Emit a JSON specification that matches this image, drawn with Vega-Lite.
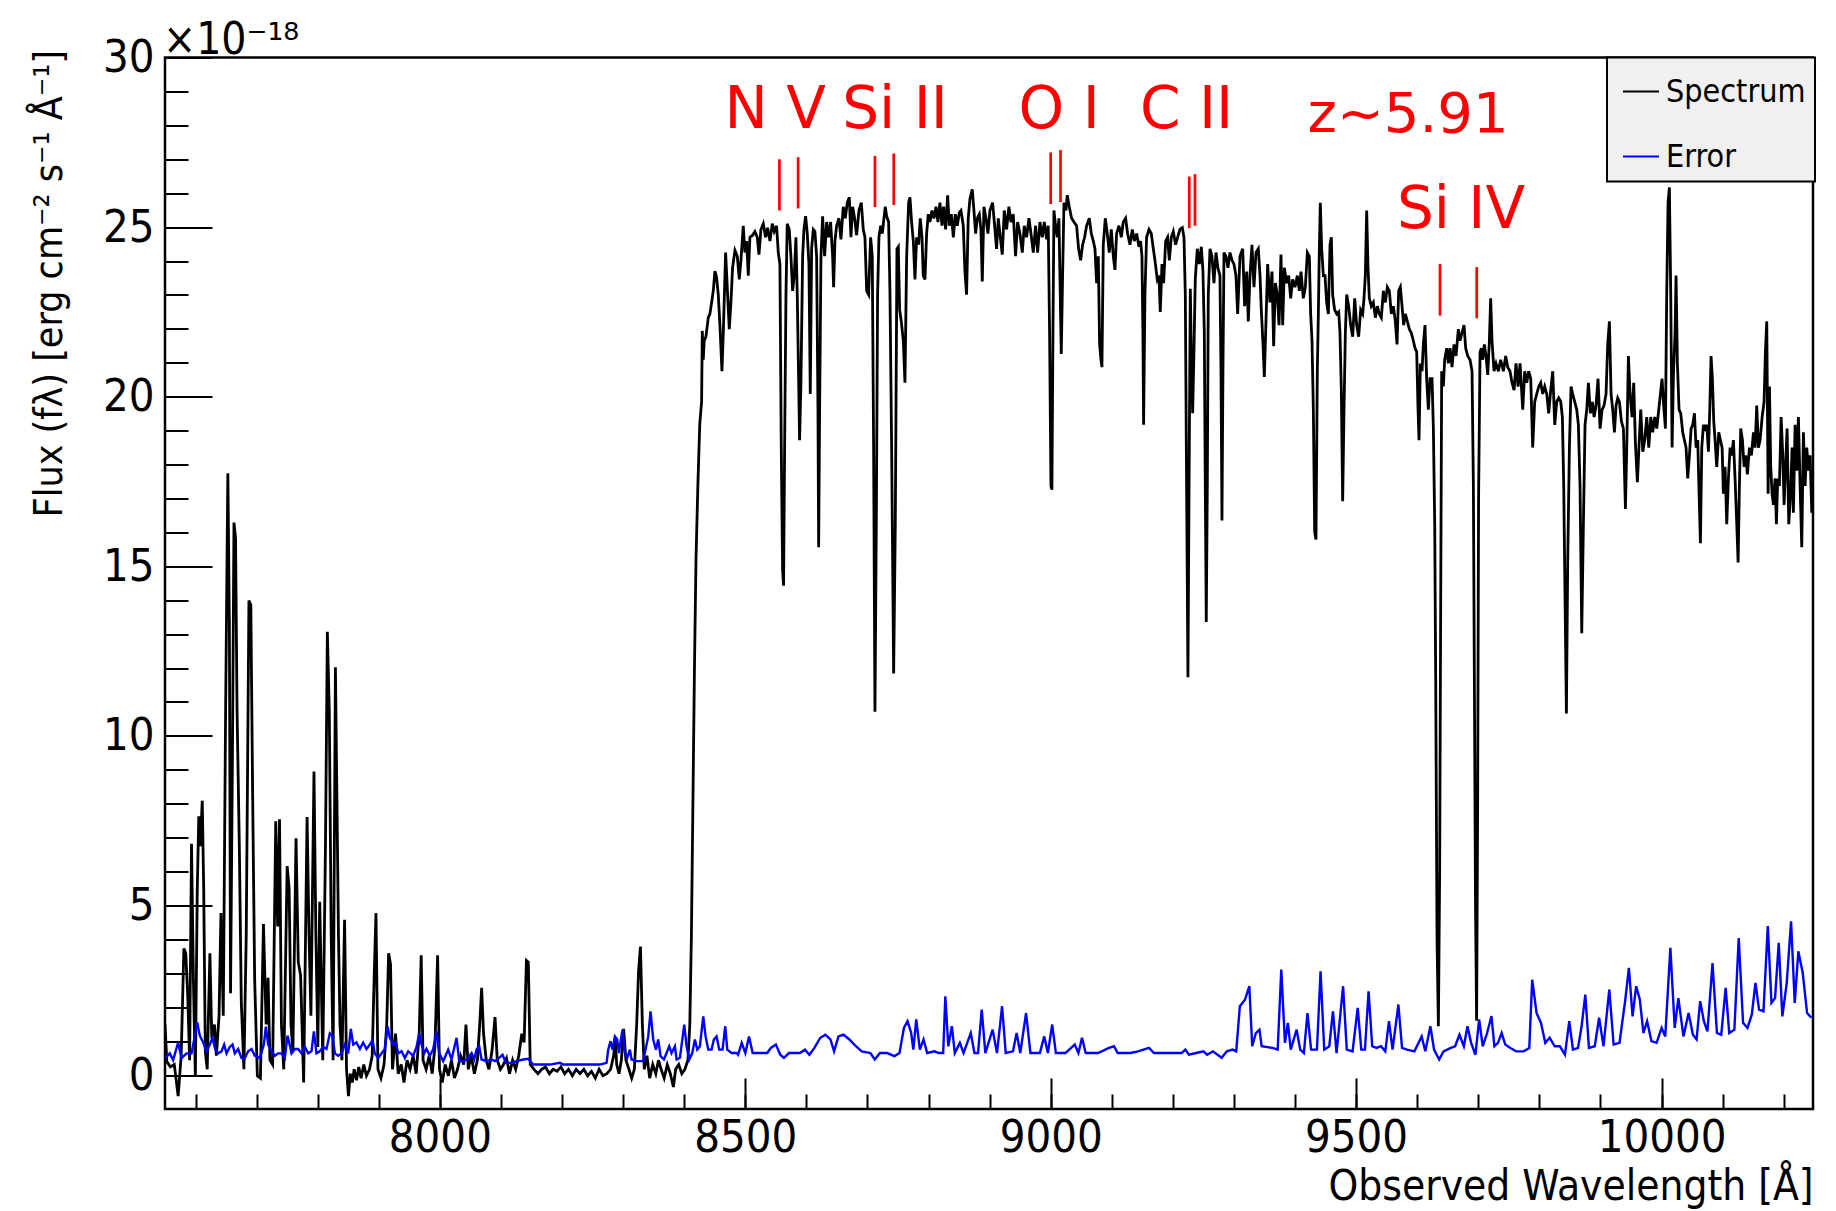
{
  "$schema": "https://vega.github.io/schema/vega-lite/v6.json",
  "width": 1648,
  "height": 1051.5,
  "autosize": {"type": "none"},
  "padding": {"left": 165, "top": 57.5, "right": 23, "bottom": 102},
  "background": "white",
  "config": {
    "font": "DejaVu Sans Condensed, DejaVu Sans",
    "view": {"stroke": "black", "strokeWidth": 2.5},
    "axis": {"grid": false, "domain": false, "labelColor": "black", "titleColor": "black", "tickColor": "black", "labelFont": "DejaVu Sans Condensed, DejaVu Sans", "titleFont": "DejaVu Sans Condensed, DejaVu Sans", "titleFontWeight": "normal"}
  },
  "datasets": {
    "spec": [
      {"wl":7550,"flux":1.5},{"wl":7553,"flux":0.4},{"wl":7558.9,"flux":0.24},{"wl":7565.2,"flux":0.31},{"wl":7571.5,"flux":-0.62},{"wl":7576.5,"flux":0.57},{"wl":7580.9,"flux":3.73},{"wl":7584.0,"flux":3.59},{"wl":7587.1,"flux":2.41},{"wl":7590.3,"flux":0.44},{"wl":7593.4,"flux":6.82},{"wl":7596.5,"flux":2.80},{"wl":7599.7,"flux":-0.02},{"wl":7602.8,"flux":5.44},{"wl":7605.3,"flux":7.63},{"wl":7607.8,"flux":6.75},{"wl":7611.0,"flux":8.09},{"wl":7613.4,"flux":5.44},{"wl":7616.0,"flux":0.70},{"wl":7619.1,"flux":0.17},{"wl":7623.5,"flux":3.59},{"wl":7626.6,"flux":1.09},{"wl":7631.0,"flux":1.49},{"wl":7634.1,"flux":0.57},{"wl":7638.5,"flux":1.75},{"wl":7641.6,"flux":4.78},{"wl":7645.4,"flux":1.75},{"wl":7649.2,"flux":10.70},{"wl":7652.9,"flux":17.74},{"wl":7655.4,"flux":13.33},{"wl":7657.3,"flux":2.41},{"wl":7660.4,"flux":9.38},{"wl":7662.9,"flux":16.29},{"wl":7665.5,"flux":15.83},{"wl":7668.0,"flux":10.70},{"wl":7671.7,"flux":6.75},{"wl":7674.9,"flux":2.15},{"wl":7679.2,"flux":0.17},{"wl":7683.0,"flux":4.12},{"wl":7687.4,"flux":13.99},{"wl":7690.5,"flux":13.86},{"wl":7693.6,"flux":8.07},{"wl":7696.8,"flux":2.80},{"wl":7701.2,"flux":-0.02},{"wl":7706.2,"flux":-0.09},{"wl":7711.2,"flux":4.45},{"wl":7715.6,"flux":1.49},{"wl":7718.7,"flux":2.87},{"wl":7721.8,"flux":0.44},{"wl":7726.2,"flux":0.31},{"wl":7731.3,"flux":7.48},{"wl":7734.4,"flux":4.38},{"wl":7737.5,"flux":7.54},{"wl":7740.6,"flux":1.49},{"wl":7744.4,"flux":0.17},{"wl":7750.0,"flux":6.16},{"wl":7753.2,"flux":5.50},{"wl":7756.3,"flux":1.49},{"wl":7759.4,"flux":0.70},{"wl":7764.5,"flux":6.98},{"wl":7768.2,"flux":3.33},{"wl":7772.0,"flux":2.94},{"wl":7777.0,"flux":-0.22},{"wl":7782.6,"flux":7.61},{"wl":7785.8,"flux":4.12},{"wl":7788.9,"flux":1.75},{"wl":7793.9,"flux":8.95},{"wl":7797.0,"flux":4.12},{"wl":7800.2,"flux":0.83},{"wl":7803.3,"flux":5.11},{"wl":7808.3,"flux":0.44},{"wl":7812.7,"flux":6.75},{"wl":7815.8,"flux":13.07},{"wl":7819.0,"flux":10.70},{"wl":7822.1,"flux":4.12},{"wl":7825.2,"flux":0.44},{"wl":7829.0,"flux":12.02},{"wl":7831.5,"flux":8.07},{"wl":7834.0,"flux":4.12},{"wl":7836.5,"flux":1.49},{"wl":7839.7,"flux":0.44},{"wl":7844.0,"flux":4.58},{"wl":7847.2,"flux":0.17},{"wl":7850.3,"flux":-0.62},{"wl":7853.4,"flux":0.04},{"wl":7856.6,"flux":-0.22},{"wl":7859.7,"flux":0.17},{"wl":7863.5,"flux":-0.15},{"wl":7867.2,"flux":0.24},{"wl":7871.0,"flux":-0.09},{"wl":7875.4,"flux":0.31},{"wl":7879.8,"flux":-0.02},{"wl":7884.8,"flux":0.17},{"wl":7889.2,"flux":0.57},{"wl":7892.3,"flux":2.80},{"wl":7895.4,"flux":4.78},{"wl":7898.6,"flux":0.17},{"wl":7903.6,"flux":-0.09},{"wl":7908.6,"flux":0.31},{"wl":7913.0,"flux":1.49},{"wl":7916.1,"flux":3.59},{"wl":7919.2,"flux":3.27},{"wl":7922.4,"flux":0.17},{"wl":7927.4,"flux":1.22},{"wl":7931.8,"flux":0.04},{"wl":7936.8,"flux":0.31},{"wl":7941.2,"flux":-0.22},{"wl":7946.2,"flux":0.44},{"wl":7951.2,"flux":0.17},{"wl":7956.2,"flux":0.57},{"wl":7961.2,"flux":0.04},{"wl":7966.2,"flux":1.22},{"wl":7969.4,"flux":3.53},{"wl":7972.5,"flux":0.44},{"wl":7977.5,"flux":0.17},{"wl":7982.5,"flux":0.57},{"wl":7987.5,"flux":0.04},{"wl":7991.9,"flux":0.83},{"wl":7996.3,"flux":3.53},{"wl":7999.4,"flux":0.17},{"wl":8003.8,"flux":-0.22},{"wl":8008.8,"flux":0.31},{"wl":8013.9,"flux":-0.02},{"wl":8018.9,"flux":0.44},{"wl":8023.9,"flux":-0.09},{"wl":8028.9,"flux":0.17},{"wl":8033.9,"flux":0.57},{"wl":8039.0,"flux":0.31},{"wl":8042.7,"flux":1.49},{"wl":8046.5,"flux":0.17},{"wl":8051.4,"flux":0.57},{"wl":8056.5,"flux":0.04},{"wl":8061.5,"flux":0.44},{"wl":8065.2,"flux":1.49},{"wl":8068.4,"flux":2.57},{"wl":8071.5,"flux":1.22},{"wl":8075.9,"flux":0.44},{"wl":8080.3,"flux":0.17},{"wl":8085.3,"flux":0.70},{"wl":8090.3,"flux":1.71},{"wl":8094.0,"flux":0.44},{"wl":8099.1,"flux":0.17},{"wl":8104.1,"flux":0.31},{"wl":8109.1,"flux":0.50},{"wl":8114.1,"flux":0.04},{"wl":8119.1,"flux":0.44},{"wl":8124.1,"flux":0.17},{"wl":8129.1,"flux":0.57},{"wl":8134.1,"flux":1.22},{"wl":8137.9,"flux":0.96},{"wl":8141.7,"flux":3.38},{"wl":8144.8,"flux":3.33},{"wl":8147.9,"flux":0.31},{"wl":8154.2,"flux":0.17},{"wl":8160.5,"flux":0.04},{"wl":8166.7,"flux":0.17},{"wl":8173.0,"flux":0.24},{"wl":8179.3,"flux":0.04},{"wl":8185.5,"flux":0.17},{"wl":8191.8,"flux":0.11},{"wl":8198.1,"flux":0.24},{"wl":8204.3,"flux":0.04},{"wl":8210.6,"flux":0.17},{"wl":8216.9,"flux":-0.02},{"wl":8223.1,"flux":0.17},{"wl":8229.4,"flux":0.04},{"wl":8235.7,"flux":0.17},{"wl":8241.9,"flux":-0.02},{"wl":8248.2,"flux":0.11},{"wl":8254.5,"flux":-0.09},{"wl":8260.7,"flux":0.17},{"wl":8267.0,"flux":-0.02},{"wl":8273.3,"flux":0.04},{"wl":8279.5,"flux":0.17},{"wl":8284.5,"flux":0.57},{"wl":8287.0,"flux":1.09},{"wl":8289.5,"flux":0.31},{"wl":8293.3,"flux":0.04},{"wl":8297.1,"flux":0.44},{"wl":8300.8,"flux":1.36},{"wl":8304.6,"flux":0.44},{"wl":8309.6,"flux":0.17},{"wl":8314.0,"flux":-0.09},{"wl":8318.4,"flux":0.17},{"wl":8322.2,"flux":1.49},{"wl":8325.3,"flux":3.07},{"wl":8328.4,"flux":3.79},{"wl":8331.5,"flux":1.49},{"wl":8334.7,"flux":0.17},{"wl":8339.0,"flux":0.57},{"wl":8343.5,"flux":-0.09},{"wl":8348.5,"flux":0.31},{"wl":8353.5,"flux":0.04},{"wl":8357.9,"flux":0.44},{"wl":8362.2,"flux":0.17},{"wl":8367.2,"flux":-0.09},{"wl":8372.3,"flux":0.31},{"wl":8377.3,"flux":0.04},{"wl":8382.3,"flux":-0.35},{"wl":8386.0,"flux":0.17},{"wl":8391.0,"flux":0.31},{"wl":8396.1,"flux":0.04},{"wl":8401.1,"flux":0.17},{"wl":8406.1,"flux":0.44},{"wl":8409.2,"flux":1.49},{"wl":8411.8,"flux":4.12},{"wl":8414.3,"flux":8.07},{"wl":8416.8,"flux":12.0},{"wl":8419.3,"flux":15.2},{"wl":8422.4,"flux":17.4},{"wl":8425.5,"flux":19.2},{"wl":8428.5,"flux":19.85},
      {"wl":8429.6,"flux":21.94},{"wl":8431.2,"flux":21.09},{"wl":8432.8,"flux":21.65},{"wl":8435.6,"flux":21.77},{"wl":8439.4,"flux":22.33},{"wl":8442.1,"flux":22.44},{"wl":8444.9,"flux":22.78},{"wl":8447.6,"flux":23.12},{"wl":8450.3,"flux":23.70},{"wl":8453.0,"flux":23.52},{"wl":8455.8,"flux":23.01},{"wl":8458.5,"flux":22.11},{"wl":8461.8,"flux":20.75},{"wl":8464.0,"flux":21.88},{"wl":8467.8,"flux":24.25},{"wl":8471.1,"flux":23.01},{"wl":8473.8,"flux":21.99},{"wl":8476.5,"flux":22.78},{"wl":8479.2,"flux":23.80},{"wl":8483.1,"flux":24.31},{"wl":8486.9,"flux":24.14},{"wl":8490.2,"flux":23.46},{"wl":8492.9,"flux":24.02},{"wl":8496.7,"flux":25.04},{"wl":8499.4,"flux":24.25},{"wl":8502.2,"flux":24.59},{"wl":8504.9,"flux":23.57},{"wl":8507.6,"flux":24.70},{"wl":8512.0,"flux":24.76},{"wl":8515.8,"flux":24.87},{"wl":8519.6,"flux":24.70},{"wl":8522.4,"flux":24.19},{"wl":8525.6,"flux":24.93},{"wl":8529.5,"flux":25.10},{"wl":8533.3,"flux":24.70},{"wl":8536.5,"flux":24.98},{"wl":8540.4,"flux":24.59},{"wl":8544.2,"flux":25.10},{"wl":8547.5,"flux":24.87},{"wl":8551.3,"flux":25.04},{"wl":8554.0,"flux":24.25},{"wl":8556.7,"flux":23.91},{"wl":8558.9,"flux":18.50},{"wl":8561.1,"flux":14.89},{"wl":8562.7,"flux":14.43},{"wl":8564.4,"flux":18.50},{"wl":8566.6,"flux":23.01},{"wl":8568.7,"flux":25.10},{"wl":8572.0,"flux":24.93},{"wl":8574.7,"flux":24.14},{"wl":8577.5,"flux":23.12},{"wl":8580.2,"flux":23.57},{"wl":8582.9,"flux":24.70},{"wl":8585.1,"flux":23.01},{"wl":8587.3,"flux":20.53},{"wl":8588.9,"flux":18.72},{"wl":8591.1,"flux":20.41},{"wl":8593.9,"flux":24.14},{"wl":8596.0,"flux":24.93},{"wl":8598.8,"flux":25.32},{"wl":8601.5,"flux":24.81},{"wl":8604.2,"flux":23.91},{"wl":8606.4,"flux":20.08},{"wl":8608.6,"flux":24.36},{"wl":8611.3,"flux":24.93},{"wl":8614.0,"flux":24.87},{"wl":8616.8,"flux":24.14},{"wl":8619.0,"flux":19.62},{"wl":8620.1,"flux":15.56},{"wl":8621.7,"flux":19.62},{"wl":8623.9,"flux":24.14},{"wl":8626.6,"flux":25.32},{"wl":8629.9,"flux":24.14},{"wl":8633.2,"flux":25.15},{"wl":8636.4,"flux":24.70},{"wl":8639.7,"flux":25.15},{"wl":8643.0,"flux":24.14},{"wl":8644.6,"flux":23.23},{"wl":8646.8,"flux":24.59},{"wl":8649.5,"flux":25.04},{"wl":8653.3,"flux":25.26},{"wl":8656.6,"flux":24.64},{"wl":8660.4,"flux":25.60},{"wl":8663.7,"flux":25.26},{"wl":8667.0,"flux":25.72},{"wl":8670.3,"flux":25.88},{"wl":8673.0,"flux":24.70},{"wl":8675.7,"flux":25.60},{"wl":8679.0,"flux":25.26},{"wl":8682.3,"flux":24.76},{"wl":8686.1,"flux":25.49},{"wl":8689.9,"flux":25.72},{"wl":8693.2,"flux":24.93},{"wl":8695.9,"flux":24.70},{"wl":8698.7,"flux":23.12},{"wl":8701.9,"flux":23.01},{"wl":8705.2,"flux":24.70},{"wl":8707.9,"flux":24.14},{"wl":8710.1,"flux":18.50},{"wl":8712.3,"flux":10.71},{"wl":8714.5,"flux":16.24},{"wl":8716.6,"flux":23.01},{"wl":8718.8,"flux":24.70},{"wl":8721.6,"flux":25.04},{"wl":8724.3,"flux":24.81},{"wl":8727.0,"flux":25.26},{"wl":8729.2,"flux":25.60},{"wl":8731.4,"flux":25.32},{"wl":8734.7,"flux":25.15},{"wl":8736.9,"flux":23.01},{"wl":8739.6,"flux":18.50},{"wl":8742.9,"flux":11.84},{"wl":8745.6,"flux":16.24},{"wl":8748.3,"flux":24.36},{"wl":8750.5,"flux":24.42},{"wl":8752.7,"flux":22.56},{"wl":8755.4,"flux":22.22},{"wl":8758.7,"flux":21.65},{"wl":8761.4,"flux":20.41},{"wl":8764.2,"flux":24.14},{"wl":8767.4,"flux":25.72},{"wl":8769.6,"flux":25.88},{"wl":8772.3,"flux":25.15},{"wl":8775.1,"flux":24.59},{"wl":8777.8,"flux":23.46},{"wl":8780.5,"flux":24.70},{"wl":8783.8,"flux":24.48},{"wl":8786.5,"flux":25.26},{"wl":8789.3,"flux":24.70},{"wl":8791.4,"flux":23.57},{"wl":8794.2,"flux":23.46},{"wl":8796.9,"flux":24.81},{"wl":8799.6,"flux":25.38},{"wl":8802.4,"flux":25.15},{"wl":8805.6,"flux":25.49},{"wl":8808.9,"flux":25.26},{"wl":8812.2,"flux":25.60},{"wl":8815.4,"flux":25.15},{"wl":8818.7,"flux":25.72},{"wl":8822.0,"flux":25.04},{"wl":8824.7,"flux":25.60},{"wl":8828.0,"flux":24.93},{"wl":8831.3,"flux":25.94},{"wl":8834.0,"flux":25.04},{"wl":8837.3,"flux":25.38},{"wl":8840.6,"flux":24.70},{"wl":8843.8,"flux":25.38},{"wl":8847.1,"flux":25.04},{"wl":8850.4,"flux":25.43},
      {"wl":8853.1,"flux":25.49},{"wl":8856.9,"flux":25.04},{"wl":8859.6,"flux":23.69},{"wl":8862.3,"flux":23.01},{"wl":8865.0,"flux":25.26},{"wl":8867.8,"flux":25.83},{"wl":8871.6,"flux":26.11},{"wl":8874.3,"flux":25.49},{"wl":8877.1,"flux":24.81},{"wl":8879.8,"flux":25.26},{"wl":8883.1,"flux":25.38},{"wl":8885.8,"flux":24.93},{"wl":8888.0,"flux":23.40},{"wl":8890.7,"flux":25.60},{"wl":8894.0,"flux":25.26},{"wl":8897.2,"flux":24.81},{"wl":8900.5,"flux":25.49},{"wl":8904.9,"flux":25.72},{"wl":8908.2,"flux":25.04},{"wl":8911.4,"flux":24.36},{"wl":8914.2,"flux":25.26},{"wl":8916.9,"flux":24.81},{"wl":8920.7,"flux":24.19},{"wl":8924.0,"flux":25.49},{"wl":8927.8,"flux":24.93},{"wl":8931.6,"flux":25.60},{"wl":8934.9,"flux":25.15},{"wl":8938.7,"flux":25.38},{"wl":8942.5,"flux":24.14},{"wl":8945.8,"flux":25.15},{"wl":8949.6,"flux":24.81},{"wl":8953.5,"flux":24.25},{"wl":8956.7,"flux":25.04},{"wl":8960.6,"flux":24.70},{"wl":8964.4,"flux":25.26},{"wl":8967.7,"flux":24.81},{"wl":8971.5,"flux":24.25},{"wl":8975.3,"flux":25.04},{"wl":8978.6,"flux":24.25},{"wl":8982.4,"flux":25.15},{"wl":8986.2,"flux":24.70},{"wl":8989.5,"flux":25.15},{"wl":8993.3,"flux":24.64},{"wl":8996.0,"flux":25.04},{"wl":8998.2,"flux":21.88},{"wl":9000.4,"flux":17.37},{"wl":9002.0,"flux":17.26},{"wl":9003.7,"flux":21.88},{"wl":9005.3,"flux":25.49},{"wl":9008.0,"flux":25.04},{"wl":9010.8,"flux":24.70},{"wl":9013.5,"flux":25.26},{"wl":9015.1,"flux":23.57},{"wl":9017.3,"flux":21.26},{"wl":9019.5,"flux":23.57},{"wl":9021.7,"flux":25.72},{"wl":9025.0,"flux":25.49},{"wl":9027.1,"flux":25.94},{"wl":9030.4,"flux":25.60},{"wl":9034.2,"flux":25.26},{"wl":9038.1,"flux":25.15},{"wl":9042.4,"flux":25.04},{"wl":9045.7,"flux":24.36},{"wl":9049.0,"flux":24.02},{"wl":9052.3,"flux":24.48},{"wl":9055.5,"flux":24.70},{"wl":9058.8,"flux":25.04},{"wl":9063.2,"flux":25.26},{"wl":9066.5,"flux":24.81},{"wl":9069.7,"flux":24.59},{"wl":9072.5,"flux":24.36},{"wl":9075.2,"flux":23.35},{"wl":9077.9,"flux":24.14},{"wl":9080.1,"flux":21.54},{"wl":9082.3,"flux":21.09},{"wl":9083.9,"flux":20.87},{"wl":9086.1,"flux":24.48},{"wl":9089.4,"flux":25.26},{"wl":9092.6,"flux":24.81},{"wl":9095.9,"flux":24.25},{"wl":9099.2,"flux":24.93},{"wl":9102.5,"flux":24.14},{"wl":9105.2,"flux":23.74},{"wl":9107.9,"flux":24.81},{"wl":9111.8,"flux":25.04},{"wl":9115.6,"flux":24.70},{"wl":9118.8,"flux":25.15},{"wl":9122.7,"flux":25.26},{"wl":9125.9,"flux":24.81},{"wl":9129.8,"flux":24.48},{"wl":9133.6,"flux":24.93},{"wl":9136.9,"flux":24.59},{"wl":9140.7,"flux":24.81},{"wl":9144.5,"flux":24.42},{"wl":9147.2,"flux":24.59},{"wl":9149.4,"flux":24.14},{"wl":9151.0,"flux":21.88},{"wl":9152.1,"flux":19.17},{"wl":9154.3,"flux":23.01},{"wl":9157.0,"flux":24.70},{"wl":9160.9,"flux":24.93},{"wl":9164.7,"flux":24.81},{"wl":9168.0,"flux":24.36},{"wl":9170.7,"flux":24.02},{"wl":9174.5,"flux":23.46},{"wl":9177.2,"flux":23.57},{"wl":9179.4,"flux":22.50},{"wl":9182.2,"flux":23.91},{"wl":9184.9,"flux":23.35},{"wl":9188.2,"flux":24.59},{"wl":9191.4,"flux":24.70},{"wl":9194.2,"flux":24.02},{"wl":9197.4,"flux":24.70},{"wl":9200.7,"flux":24.87},{"wl":9204.5,"flux":24.48},{"wl":9207.8,"flux":24.70},{"wl":9211.6,"flux":24.93},{"wl":9215.5,"flux":24.98},{"wl":9218.2,"flux":24.70},{"wl":9220.4,"flux":23.01},{"wl":9222.5,"flux":17.37},{"wl":9224.7,"flux":11.73},{"wl":9226.9,"flux":18.50},{"wl":9228.6,"flux":23.18},{"wl":9230.2,"flux":21.32},{"wl":9232.4,"flux":19.51},{"wl":9234.5,"flux":21.32},{"wl":9236.7,"flux":23.46},{"wl":9240.0,"flux":24.36},{"wl":9243.3,"flux":23.91},{"wl":9246.6,"flux":24.42},{"wl":9249.3,"flux":23.69},{"wl":9251.5,"flux":21.88},{"wl":9253.1,"flux":17.37},{"wl":9254.7,"flux":13.36},{"wl":9256.4,"flux":17.37},{"wl":9258.0,"flux":23.01},{"wl":9260.8,"flux":24.36},{"wl":9264.0,"flux":24.14},{"wl":9267.3,"flux":23.35},{"wl":9270.6,"flux":24.25},{"wl":9273.8,"flux":23.80},{"wl":9277.1,"flux":23.57},{"wl":9278.8,"flux":20.75},{"wl":9280.4,"flux":16.35},{"wl":9282.0,"flux":20.75},{"wl":9283.7,"flux":24.25},{"wl":9286.9,"flux":24.14},{"wl":9290.2,"flux":23.80},{"wl":9293.5,"flux":24.25},{"wl":9296.8,"flux":24.02},{"wl":9300.0,"flux":23.91},{"wl":9303.3,"flux":23.57},{"wl":9306.1,"flux":22.44},
      {"wl":9309.9,"flux":24.14},{"wl":9314.3,"flux":24.36},{"wl":9317.5,"flux":22.67},{"wl":9320.8,"flux":23.69},{"wl":9323.5,"flux":22.22},{"wl":9326.3,"flux":23.57},{"wl":9329.5,"flux":24.48},{"wl":9332.8,"flux":23.23},{"wl":9336.1,"flux":24.25},{"wl":9339.9,"flux":24.36},{"wl":9342.7,"flux":23.57},{"wl":9344.8,"flux":22.56},{"wl":9347.6,"flux":21.54},{"wl":9349.7,"flux":20.58},{"wl":9351.9,"flux":21.88},{"wl":9355.2,"flux":23.91},{"wl":9359.0,"flux":22.78},{"wl":9362.3,"flux":23.69},{"wl":9365.0,"flux":21.49},{"wl":9367.8,"flux":23.35},{"wl":9371.0,"flux":23.01},{"wl":9373.8,"flux":22.11},{"wl":9377.0,"flux":24.19},{"wl":9379.8,"flux":22.11},{"wl":9382.5,"flux":23.80},{"wl":9386.3,"flux":23.35},{"wl":9389.6,"flux":23.57},{"wl":9392.9,"flux":22.90},{"wl":9396.1,"flux":23.46},{"wl":9399.9,"flux":23.23},{"wl":9403.8,"flux":23.57},{"wl":9407.1,"flux":23.12},{"wl":9409.8,"flux":23.69},{"wl":9413.6,"flux":22.90},{"wl":9416.9,"flux":23.23},{"wl":9420.2,"flux":24.25},{"wl":9423.4,"flux":24.14},{"wl":9425.6,"flux":22.44},{"wl":9427.8,"flux":21.65},{"wl":9430.0,"flux":19.62},{"wl":9432.2,"flux":16.02},{"wl":9434.3,"flux":15.79},{"wl":9436.5,"flux":20.75},{"wl":9438.2,"flux":22.44},{"wl":9439.8,"flux":24.36},{"wl":9441.4,"flux":25.72},{"wl":9443.6,"flux":24.36},{"wl":9446.4,"flux":23.57},{"wl":9449.1,"flux":23.57},{"wl":9451.8,"flux":22.78},{"wl":9454.6,"flux":22.44},{"wl":9457.3,"flux":24.48},{"wl":9459.5,"flux":24.70},{"wl":9461.6,"flux":23.01},{"wl":9464.9,"flux":22.56},{"wl":9468.2,"flux":22.44},{"wl":9471.5,"flux":22.50},{"wl":9473.6,"flux":21.88},{"wl":9475.8,"flux":20.19},{"wl":9478.0,"flux":16.92},{"wl":9480.2,"flux":19.62},{"wl":9482.4,"flux":21.88},{"wl":9484.6,"flux":23.01},{"wl":9487.8,"flux":22.67},{"wl":9491.1,"flux":22.11},{"wl":9494.4,"flux":21.77},{"wl":9497.7,"flux":22.90},{"wl":9500.9,"flux":22.11},{"wl":9504.2,"flux":21.77},{"wl":9507.5,"flux":22.56},{"wl":9510.8,"flux":22.44},{"wl":9512.9,"flux":22.90},{"wl":9515.1,"flux":23.57},{"wl":9517.3,"flux":25.49},{"wl":9519.5,"flux":23.80},{"wl":9521.7,"flux":22.90},{"wl":9524.9,"flux":22.67},{"wl":9528.2,"flux":22.78},{"wl":9531.5,"flux":22.33},{"wl":9534.8,"flux":22.67},{"wl":9538.0,"flux":22.44},{"wl":9541.3,"flux":22.33},{"wl":9544.6,"flux":23.12},{"wl":9547.9,"flux":22.78},{"wl":9551.1,"flux":23.23},{"wl":9554.4,"flux":23.12},{"wl":9557.7,"flux":22.44},{"wl":9561.0,"flux":22.67},{"wl":9564.2,"flux":22.22},{"wl":9567.0,"flux":21.54},{"wl":9569.7,"flux":23.12},{"wl":9572.4,"flux":23.23},{"wl":9575.2,"flux":22.67},{"wl":9577.9,"flux":22.11},{"wl":9580.6,"flux":22.44},{"wl":9583.9,"flux":22.22},{"wl":9587.2,"flux":21.99},{"wl":9590.4,"flux":21.88},{"wl":9593.7,"flux":21.65},{"wl":9596.5,"flux":21.43},{"wl":9599.2,"flux":21.32},{"wl":9601.4,"flux":19.62},{"wl":9603.0,"flux":18.72},{"wl":9605.2,"flux":20.98},{"wl":9607.9,"flux":20.75},{"wl":9610.1,"flux":21.54},{"wl":9612.8,"flux":22.11},{"wl":9615.5,"flux":20.53},{"wl":9618.3,"flux":19.62},{"wl":9621.0,"flux":20.53},{"wl":9624.3,"flux":20.53},{"wl":9626.5,"flux":19.06},{"wl":9628.7,"flux":16.24},{"wl":9630.3,"flux":11.73},{"wl":9632.5,"flux":4.0},{"wl":9634.7,"flux":1.44},{"wl":9636.8,"flux":6.0},{"wl":9638.5,"flux":14.0},{"wl":9640.1,"flux":20.75},{"wl":9642.8,"flux":20.30},{"wl":9645.0,"flux":21.09},{"wl":9648.3,"flux":21.43},{"wl":9651.0,"flux":20.98},{"wl":9653.8,"flux":21.43},{"wl":9657.0,"flux":20.87},{"wl":9660.3,"flux":21.54},{"wl":9663.6,"flux":21.20},{"wl":9667.4,"flux":21.99},{"wl":9670.1,"flux":21.65},{"wl":9673.4,"flux":21.88},{"wl":9676.7,"flux":22.11},{"wl":9679.4,"flux":21.43},{"wl":9682.7,"flux":21.20},{"wl":9686.5,"flux":21.09},{"wl":9689.8,"flux":20.75},{"wl":9692.0,"flux":17.37},{"wl":9693.6,"flux":11.73},{"wl":9695.5,"flux":5.0},{"wl":9697.3,"flux":1.6},{"wl":9699.0,"flux":8.0},{"wl":9700.5,"flux":17.0},{"wl":9702.9,"flux":21.32},{"wl":9705.1,"flux":21.43},{"wl":9707.3,"flux":21.09},{"wl":9710.0,"flux":21.54},{"wl":9712.7,"flux":21.20},{"wl":9715.5,"flux":20.64},{"wl":9718.2,"flux":21.65},{"wl":9720.3,"flux":22.90},{"wl":9722.5,"flux":21.65},{"wl":9725.8,"flux":20.75},{"wl":9729.1,"flux":20.98},{"wl":9732.9,"flux":20.75},{"wl":9736.7,"flux":21.09},{"wl":9741.1,"flux":20.75},{"wl":9744.9,"flux":21.20},{"wl":9748.2,"flux":20.87},{"wl":9752.0,"flux":20.75},{"wl":9755.3,"flux":20.41},{"wl":9758.6,"flux":20.19},{"wl":9761.8,"flux":20.98},{"wl":9765.1,"flux":20.30},
      {"wl":9768.4,"flux":20.98},{"wl":9772.8,"flux":19.62},{"wl":9776.0,"flux":20.75},{"wl":9779.3,"flux":20.41},{"wl":9782.6,"flux":20.75},{"wl":9785.9,"flux":20.53},{"wl":9789.1,"flux":18.50},{"wl":9792.4,"flux":19.85},{"wl":9795.7,"flux":20.08},{"wl":9799.0,"flux":20.30},{"wl":9802.2,"flux":20.41},{"wl":9805.5,"flux":20.08},{"wl":9808.8,"flux":20.30},{"wl":9812.1,"flux":20.08},{"wl":9815.3,"flux":19.51},{"wl":9818.6,"flux":20.19},{"wl":9821.9,"flux":20.75},{"wl":9825.2,"flux":19.17},{"wl":9828.4,"flux":19.85},{"wl":9831.7,"flux":19.96},{"wl":9835.0,"flux":19.85},{"wl":9837.7,"flux":19.40},{"wl":9839.9,"flux":17.37},{"wl":9842.1,"flux":13.98},{"wl":9844.3,"flux":10.66},{"wl":9846.4,"flux":15.11},{"wl":9849.2,"flux":18.50},{"wl":9851.9,"flux":20.30},{"wl":9854.6,"flux":20.08},{"wl":9857.9,"flux":19.85},{"wl":9861.2,"flux":19.62},{"wl":9863.9,"flux":19.17},{"wl":9866.6,"flux":17.37},{"wl":9869.4,"flux":13.03},{"wl":9872.1,"flux":16.24},{"wl":9874.8,"flux":19.17},{"wl":9877.6,"flux":19.62},{"wl":9880.3,"flux":20.41},{"wl":9883.6,"flux":19.51},{"wl":9886.8,"flux":19.85},{"wl":9889.6,"flux":19.40},{"wl":9892.8,"flux":19.74},{"wl":9896.1,"flux":20.53},{"wl":9899.4,"flux":19.06},{"wl":9902.7,"flux":19.62},{"wl":9905.9,"flux":19.74},{"wl":9909.2,"flux":20.08},{"wl":9911.9,"flux":21.54},{"wl":9914.7,"flux":22.22},{"wl":9917.4,"flux":20.08},{"wl":9920.1,"flux":19.62},{"wl":9922.9,"flux":18.95},{"wl":9925.6,"flux":19.74},{"wl":9928.3,"flux":19.96},{"wl":9931.1,"flux":19.85},{"wl":9934.3,"flux":19.28},{"wl":9937.6,"flux":19.06},{"wl":9940.9,"flux":16.69},{"wl":9943.1,"flux":18.50},{"wl":9945.8,"flux":21.20},{"wl":9948.5,"flux":20.08},{"wl":9951.8,"flux":19.40},{"wl":9954.5,"flux":20.41},{"wl":9957.3,"flux":18.61},{"wl":9960.5,"flux":17.48},{"wl":9963.3,"flux":18.61},{"wl":9966.0,"flux":19.62},{"wl":9969.3,"flux":18.38},{"wl":9972.5,"flux":18.72},{"wl":9975.8,"flux":19.40},{"wl":9979.1,"flux":18.50},{"wl":9982.4,"flux":19.40},{"wl":9985.6,"flux":18.95},{"wl":9988.9,"flux":19.40},{"wl":9992.2,"flux":19.06},{"wl":9995.5,"flux":19.62},{"wl":9998.2,"flux":20.08},{"wl":10000.9,"flux":20.53},{"wl":10003.1,"flux":19.85},{"wl":10006.4,"flux":19.06},{"wl":10008.5,"flux":23.01},{"wl":10010.7,"flux":25.72},{"wl":10012.9,"flux":26.17},{"wl":10015.1,"flux":23.01},{"wl":10017.3,"flux":18.50},{"wl":10019.5,"flux":20.64},{"wl":10022.2,"flux":21.88},{"wl":10023.8,"flux":23.57},{"wl":10026.0,"flux":20.98},{"wl":10028.7,"flux":19.62},{"wl":10031.5,"flux":19.51},{"wl":10034.7,"flux":18.95},{"wl":10037.5,"flux":18.72},{"wl":10040.2,"flux":18.50},{"wl":10042.9,"flux":17.59},{"wl":10045.7,"flux":18.27},{"wl":10048.4,"flux":19.06},{"wl":10051.1,"flux":19.17},{"wl":10053.9,"flux":19.51},{"wl":10056.6,"flux":18.50},{"wl":10059.3,"flux":18.72},{"wl":10061.5,"flux":17.14},{"wl":10063.7,"flux":15.68},{"wl":10065.9,"flux":18.50},{"wl":10068.6,"flux":19.17},{"wl":10071.3,"flux":19.06},{"wl":10074.1,"flux":19.17},{"wl":10076.8,"flux":18.38},{"wl":10079.0,"flux":19.62},{"wl":10081.1,"flux":21.20},{"wl":10083.3,"flux":20.53},{"wl":10085.5,"flux":19.28},{"wl":10087.7,"flux":18.72},{"wl":10090.4,"flux":17.93},{"wl":10093.7,"flux":18.95},{"wl":10096.4,"flux":18.72},{"wl":10099.2,"flux":18.50},{"wl":10101.3,"flux":17.14},{"wl":10104.1,"flux":17.93},{"wl":10106.8,"flux":16.24},{"wl":10109.5,"flux":17.59},{"wl":10112.3,"flux":18.50},{"wl":10115.0,"flux":18.27},{"wl":10117.7,"flux":18.72},{"wl":10120.4,"flux":17.59},{"wl":10123.2,"flux":16.24},{"wl":10125.4,"flux":15.11},{"wl":10127.5,"flux":17.37},{"wl":10129.7,"flux":19.06},{"wl":10132.5,"flux":18.72},{"wl":10135.2,"flux":17.93},{"wl":10137.9,"flux":18.27},{"wl":10140.6,"flux":17.71},{"wl":10143.9,"flux":18.50},{"wl":10147.2,"flux":18.27},{"wl":10150.5,"flux":18.95},{"wl":10153.2,"flux":18.50},{"wl":10155.9,"flux":19.74},{"wl":10158.6,"flux":18.50},{"wl":10161.4,"flux":18.72},{"wl":10164.7,"flux":19.40},{"wl":10167.9,"flux":19.85},{"wl":10170.1,"flux":21.32},{"wl":10172.3,"flux":22.22},{"wl":10174.5,"flux":17.14},{"wl":10176.7,"flux":20.30},{"wl":10178.8,"flux":17.93},{"wl":10181.0,"flux":17.14},{"wl":10183.2,"flux":16.81},{"wl":10185.9,"flux":17.59},{"wl":10188.1,"flux":16.24},{"wl":10190.3,"flux":17.59},{"wl":10193.0,"flux":17.37},{"wl":10195.8,"flux":19.40},{"wl":10198.5,"flux":18.27},{"wl":10200.7,"flux":16.81},{"wl":10202.8,"flux":17.82},{"wl":10205.6,"flux":19.06},{"wl":10208.3,"flux":16.24},{"wl":10211.0,"flux":17.03},{"wl":10213.8,"flux":18.50},{"wl":10215.9,"flux":16.58},{"wl":10218.7,"flux":19.17},{"wl":10221.4,"flux":17.82},{"wl":10224.1,"flux":19.40},{"wl":10226.9,"flux":17.37},{"wl":10229.6,"flux":15.56},{"wl":10232.3,"flux":18.95},{"wl":10235.1,"flux":17.37},{"wl":10237.8,"flux":18.50},{"wl":10240.5,"flux":17.82},{"wl":10243.3,"flux":18.27},{"wl":10246.0,"flux":16.58},{"wl":10248,"flux":17.82}
    ],
    "err": [
      {"wl":7550,"error":0.50},{"wl":7557.9,"error":0.64},{"wl":7563.3,"error":0.44},{"wl":7571.5,"error":0.96},{"wl":7577.0,"error":0.50},{"wl":7585.2,"error":0.64},{"wl":7593.4,"error":0.64},{"wl":7598.8,"error":1.16},{"wl":7602.6,"error":1.56},{"wl":7607.0,"error":1.16},{"wl":7612.5,"error":0.96},{"wl":7617.9,"error":0.70},{"wl":7623.4,"error":0.90},{"wl":7627.7,"error":1.10},{"wl":7632.1,"error":0.77},{"wl":7637.0,"error":0.64},{"wl":7642.5,"error":0.70},{"wl":7646.8,"error":0.90},{"wl":7650.7,"error":0.64},{"wl":7656.1,"error":0.83},{"wl":7660.5,"error":0.90},{"wl":7664.3,"error":0.64},{"wl":7669.8,"error":0.77},{"wl":7675.2,"error":0.50},{"wl":7680.7,"error":0.50},{"wl":7686.1,"error":0.70},{"wl":7691.6,"error":0.77},{"wl":7697.1,"error":0.57},{"wl":7705.2,"error":0.50},{"wl":7711.8,"error":0.90},{"wl":7715.1,"error":1.43},{"wl":7718.9,"error":0.90},{"wl":7724.3,"error":0.70},{"wl":7729.8,"error":0.57},{"wl":7735.3,"error":0.64},{"wl":7740.7,"error":0.64},{"wl":7746.2,"error":0.50},{"wl":7750.5,"error":1.16},{"wl":7753.3,"error":0.96},{"wl":7757.1,"error":0.64},{"wl":7762.6,"error":0.77},{"wl":7768.0,"error":0.77},{"wl":7773.5,"error":0.64},{"wl":7778.9,"error":0.83},{"wl":7784.4,"error":0.64},{"wl":7789.8,"error":0.70},{"wl":7793.7,"error":1.29},{"wl":7798.0,"error":0.64},{"wl":7803.5,"error":0.70},{"wl":7808.9,"error":0.83},{"wl":7814.4,"error":0.77},{"wl":7819.9,"error":1.23},{"wl":7824.2,"error":1.16},{"wl":7828.1,"error":0.64},{"wl":7833.5,"error":0.57},{"wl":7839.0,"error":0.64},{"wl":7844.4,"error":0.90},{"wl":7849.9,"error":0.64},{"wl":7854.2,"error":1.36},{"wl":7858.1,"error":0.90},{"wl":7863.5,"error":0.96},{"wl":7869.0,"error":0.77},{"wl":7874.4,"error":0.96},{"wl":7879.9,"error":0.77},{"wl":7885.4,"error":0.90},{"wl":7889.7,"error":1.03},{"wl":7893.5,"error":0.64},{"wl":7899.0,"error":0.50},{"wl":7904.5,"error":0.64},{"wl":7909.9,"error":0.77},{"wl":7914.3,"error":1.43},{"wl":7918.1,"error":1.10},{"wl":7923.6,"error":0.90},{"wl":7927.9,"error":0.96},{"wl":7931.8,"error":0.64},{"wl":7937.2,"error":0.70},{"wl":7942.7,"error":0.50},{"wl":7948.1,"error":0.70},{"wl":7952.0,"error":0.64},{"wl":7956.3,"error":0.57},{"wl":7961.8,"error":0.83},{"wl":7966.1,"error":1.23},{"wl":7970.0,"error":0.90},{"wl":7974.3,"error":0.64},{"wl":7978.1,"error":0.77},{"wl":7983.6,"error":0.57},{"wl":7989.1,"error":0.77},{"wl":7994.5,"error":1.29},{"wl":7998.9,"error":0.64},
      {"wl":8005.5,"error":0.41},{"wl":8013.6,"error":0.75},{"wl":8019.1,"error":0.46},{"wl":8027.3,"error":1.10},{"wl":8031.7,"error":0.41},{"wl":8038.2,"error":0.41},{"wl":8043.7,"error":0.46},{"wl":8051.9,"error":0.65},{"wl":8056.2,"error":0.46},{"wl":8060.0,"error":0.75},{"wl":8064.4,"error":0.85},{"wl":8068.2,"error":0.46},{"wl":8076.4,"error":0.41},{"wl":8084.6,"error":0.46},{"wl":8090.1,"error":0.41},{"wl":8097.2,"error":0.51},{"wl":8102.6,"error":0.60},{"wl":8108.1,"error":0.36},{"wl":8117.3,"error":0.36},{"wl":8125.5,"error":0.41},{"wl":8136.5,"error":0.46},{"wl":8144.6,"error":0.48},{"wl":8152.8,"error":0.31},{"wl":8163.7,"error":0.31},{"wl":8180.1,"error":0.31},{"wl":8196.5,"error":0.36},{"wl":8201.9,"error":0.31},{"wl":8218.3,"error":0.31},{"wl":8234.7,"error":0.31},{"wl":8251.1,"error":0.31},{"wl":8262.0,"error":0.31},{"wl":8272.9,"error":0.36},{"wl":8275.6,"error":0.75},{"wl":8279.4,"error":1.00},{"wl":8282.7,"error":0.75},{"wl":8286.5,"error":1.14},{"wl":8290.4,"error":1.05},{"wl":8293.1,"error":0.65},{"wl":8296.4,"error":1.05},{"wl":8299.1,"error":1.34},{"wl":8302.9,"error":0.65},{"wl":8306.7,"error":0.51},{"wl":8311.1,"error":0.75},{"wl":8313.8,"error":0.46},{"wl":8322.0,"error":0.41},{"wl":8332.9,"error":0.41},{"wl":8341.1,"error":1.14},{"wl":8344.9,"error":1.88},{"wl":8349.3,"error":1.05},{"wl":8353.7,"error":0.75},{"wl":8357.5,"error":1.05},{"wl":8361.3,"error":0.56},{"wl":8366.8,"error":0.46},{"wl":8371.1,"error":0.65},{"wl":8375.5,"error":0.85},{"wl":8379.3,"error":0.65},{"wl":8384.8,"error":0.85},{"wl":8387.5,"error":0.46},{"wl":8393.0,"error":0.51},{"wl":8400.1,"error":1.49},{"wl":8403.9,"error":0.85},{"wl":8408.3,"error":0.46},{"wl":8413.2,"error":0.65},{"wl":8417.5,"error":1.05},{"wl":8421.4,"error":0.75},{"wl":8425.7,"error":0.85},{"wl":8431.2,"error":1.73},{"wl":8435.0,"error":1.14},{"wl":8439.4,"error":0.75},{"wl":8444.8,"error":0.75},{"wl":8448.6,"error":1.05},{"wl":8453.0,"error":1.14},{"wl":8457.4,"error":0.75},{"wl":8462.8,"error":0.75},{"wl":8467.2,"error":1.44},{"wl":8470.5,"error":0.75},{"wl":8477.6,"error":0.65},{"wl":8485.8,"error":0.65},
      {"wl":8488.2,"error":0.60},{"wl":8494.2,"error":0.95},{"wl":8500.1,"error":0.65},{"wl":8506.1,"error":1.14},{"wl":8512.1,"error":0.65},{"wl":8535.9,"error":0.65},{"wl":8541.8,"error":0.80},{"wl":8550.1,"error":0.90},{"wl":8557.3,"error":0.60},{"wl":8563.2,"error":0.51},{"wl":8571.6,"error":0.65},{"wl":8589.4,"error":0.65},{"wl":8597.8,"error":0.75},{"wl":8604.9,"error":0.60},{"wl":8613.2,"error":0.80},{"wl":8622.8,"error":1.10},{"wl":8631.1,"error":1.19},{"wl":8639.4,"error":1.05},{"wl":8645.4,"error":0.70},{"wl":8652.5,"error":1.14},{"wl":8660.9,"error":1.19},{"wl":8670.4,"error":1.05},{"wl":8681.1,"error":0.85},{"wl":8690.6,"error":0.70},{"wl":8704.9,"error":0.65},{"wl":8712.0,"error":0.46},{"wl":8720.4,"error":0.65},{"wl":8732.3,"error":0.65},{"wl":8744.2,"error":0.56},{"wl":8752.5,"error":0.65},{"wl":8759.7,"error":1.39},{"wl":8765.6,"error":1.59},{"wl":8771.6,"error":1.24},{"wl":8775.1,"error":0.75},{"wl":8779.9,"error":1.64},{"wl":8785.8,"error":0.75},{"wl":8791.8,"error":1.05},{"wl":8797.8,"error":0.65},{"wl":8809.7,"error":0.70},{"wl":8816.8,"error":0.65},{"wl":8824.0,"error":0.65},{"wl":8827.5,"error":2.32},{"wl":8832.3,"error":0.85},{"wl":8838.2,"error":1.44},{"wl":8843.0,"error":0.65},{"wl":8851.3,"error":0.95},{"wl":8857.3,"error":0.65},{"wl":8869.2,"error":1.24},{"wl":8875.1,"error":0.65},{"wl":8881.1,"error":0.65},{"wl":8887.1,"error":1.93},{"wl":8893.0,"error":0.65},{"wl":8904.9,"error":1.34},{"wl":8912.1,"error":0.65},{"wl":8920.4,"error":2.03},{"wl":8926.4,"error":0.65},{"wl":8938.3,"error":0.70},{"wl":8944.2,"error":1.24},{"wl":8950.2,"error":0.65},{"wl":8959.7,"error":1.83},{"wl":8966.8,"error":0.65},{"wl":8982.3,"error":0.65},{"wl":8989.4,"error":1.14},{"wl":8995.4,"error":0.65},{"wl":9002.5,"error":1.49},{"wl":9008.5,"error":0.65},{"wl":9024.0,"error":0.65},{"wl":9039.4,"error":0.90},{"wl":9045.4,"error":0.65},{"wl":9051.3,"error":1.10},{"wl":9057.3,"error":0.65},{"wl":9077.5,"error":0.65},{"wl":9095.4,"error":0.80},{"wl":9103.7,"error":0.85},{"wl":9109.7,"error":0.65},{"wl":9131.1,"error":0.65},{"wl":9143.0,"error":0.70},{"wl":9160.9,"error":0.80},{"wl":9169.2,"error":0.65},{"wl":9214.4,"error":0.65},{"wl":9220.4,"error":0.75},{"wl":9226.3,"error":0.60},{"wl":9238.2,"error":0.65},{"wl":9250.1,"error":0.70},{"wl":9256.1,"error":0.60},{"wl":9265.6,"error":0.70},{"wl":9279.9,"error":0.51},{"wl":9288.3,"error":0.70},{"wl":9297.8,"error":0.75},{"wl":9303.7,"error":0.70},{"wl":9309.7,"error":2.03},{"wl":9318.0,"error":2.22},{"wl":9325.2,"error":2.62},{"wl":9329.9,"error":0.85},{"wl":9335.9,"error":1.24},{"wl":9341.8,"error":1.34},{"wl":9345.4,"error":0.85},{"wl":9363.3,"error":0.80},{"wl":9371.6,"error":0.75},{"wl":9377.5,"error":3.11},{"wl":9383.5,"error":0.95},{"wl":9388.3,"error":1.54},{"wl":9393.0,"error":0.75},{"wl":9402.6,"error":1.34},{"wl":9408.5,"error":0.75},{"wl":9414.5,"error":0.65},{"wl":9420.4,"error":1.83},{"wl":9426.3,"error":0.75},{"wl":9435.9,"error":0.75},{"wl":9441.8,"error":3.06},{"wl":9447.8,"error":0.75},{"wl":9456.1,"error":0.85},{"wl":9462.1,"error":1.88},{"wl":9468.0,"error":0.65},{"wl":9478.7,"error":2.62},{"wl":9484.7,"error":0.75},{"wl":9494.2,"error":0.70},{"wl":9502.6,"error":1.98},{"wl":9508.5,"error":0.75},{"wl":9514.5,"error":0.75},{"wl":9520.4,"error":2.47},{"wl":9526.4,"error":0.85},{"wl":9533.5,"error":0.80},{"wl":9540.7,"error":0.85},{"wl":9547.8,"error":0.70},{"wl":9553.8,"error":1.59},{"wl":9559.7,"error":0.75},{"wl":9569.2,"error":2.08},{"wl":9575.2,"error":0.80},{"wl":9583.5,"error":0.75},{"wl":9595.4,"error":0.70},{"wl":9607.3,"error":1.14},{"wl":9613.3,"error":0.70},{"wl":9621.6,"error":1.44},{"wl":9627.6,"error":0.75},{"wl":9635.9,"error":0.46},{"wl":9643.1,"error":0.70},{"wl":9655.0,"error":0.80},{"wl":9662.1,"error":0.85},{"wl":9669.2,"error":1.19},{"wl":9676.4,"error":0.85},{"wl":9682.3,"error":1.44},{"wl":9688.3,"error":0.95},{"wl":9695.4,"error":0.60},{"wl":9701.4,"error":1.64},{"wl":9707.3,"error":0.85},{"wl":9714.5,"error":1.24},{"wl":9721.6,"error":1.74},{"wl":9726.4,"error":0.85},{"wl":9732.3,"error":0.95},{"wl":9738.3,"error":1.24},{"wl":9744.2,"error":0.90},{"wl":9752.6,"error":0.80},{"wl":9762.1,"error":0.70},{"wl":9774.0,"error":0.70},{"wl":9783.5,"error":0.80},{"wl":9788.3,"error":2.81},{"wl":9795.4,"error":1.83},{"wl":9802.6,"error":1.54},{"wl":9809.7,"error":0.95},{"wl":9816.9,"error":1.10},{"wl":9825.2,"error":0.85},{"wl":9833.5,"error":0.85},{"wl":9841.9,"error":0.60},{"wl":9849.0,"error":1.59},{"wl":9855.0,"error":0.75},{"wl":9863.3,"error":0.80},{"wl":9869.2,"error":1.44},{"wl":9875.2,"error":2.37},{"wl":9881.2,"error":0.80},{"wl":9890.7,"error":0.85},{"wl":9897.8,"error":1.69},{"wl":9905.0,"error":0.85},{"wl":9914.5,"error":2.52},{"wl":9921.6,"error":0.90},{"wl":9931.2,"error":0.95},{"wl":9940.7,"error":2.22},{"wl":9946.6,"error":3.16},{"wl":9952.6,"error":1.73},{"wl":9958.5,"error":2.62},{"wl":9964.5,"error":2.22},{"wl":9970.4,"error":1.24},{"wl":9976.4,"error":1.59},{"wl":9983.5,"error":1.00},{"wl":9991.9,"error":0.95},{"wl":10000.2,"error":1.39},{"wl":10006.1,"error":1.14},{"wl":10014.5,"error":3.75},{"wl":10021.6,"error":1.39},{"wl":10027.6,"error":2.27},{"wl":10035.9,"error":1.14},{"wl":10044.3,"error":1.83},{"wl":10051.4,"error":1.19},{"wl":10057.4,"error":1.05},{"wl":10063.3,"error":2.18},{"wl":10069.3,"error":1.59},{"wl":10075.2,"error":1.29},{"wl":10083.5,"error":3.30},{"wl":10090.7,"error":1.24},{"wl":10097.8,"error":1.19},{"wl":10105.0,"error":2.57},{"wl":10110.9,"error":1.24},{"wl":10119.3,"error":1.34},{"wl":10126.4,"error":4.04},{"wl":10133.5,"error":1.54},{"wl":10140.7,"error":1.39},{"wl":10147.8,"error":1.78},{"wl":10153.8,"error":2.72},{"wl":10159.7,"error":1.93},{"wl":10166.9,"error":1.88},{"wl":10174.0,"error":4.39},{"wl":10180.0,"error":2.13},{"wl":10185.9,"error":2.27},{"wl":10191.9,"error":3.90},{"wl":10197.8,"error":1.73},{"wl":10205.0,"error":2.72},{"wl":10212.1,"error":4.53},{"wl":10218.1,"error":2.13},{"wl":10224.0,"error":3.65},{"wl":10231.2,"error":3.01},{"wl":10238.3,"error":1.83},{"wl":10245.5,"error":1.69}
    ],
    "lineticks": [
      {"wl":8555.9,"lo":25.49,"hi":27.00},{"wl":8586.5,"lo":25.55,"hi":27.06},
      {"wl":8712.3,"lo":25.59,"hi":27.10},{"wl":8743.1,"lo":25.65,"hi":27.17},
      {"wl":9000.0,"lo":25.68,"hi":27.20},{"wl":9016.1,"lo":25.74,"hi":27.27},
      {"wl":9226.9,"lo":24.97,"hi":26.49},{"wl":9236.2,"lo":25.04,"hi":26.56},
      {"wl":9637.4,"lo":22.39,"hi":23.91},{"wl":9697.5,"lo":22.31,"hi":23.82}
    ],
    "linelabels": [
      {"wl":8549.0,"flux":27.92,"label":"N V","size":58},
      {"wl":8745.2,"flux":27.92,"label":"Si II","size":58},
      {"wl":9013.9,"flux":27.92,"label":"O I","size":58},
      {"wl":9222.6,"flux":27.92,"label":"C II","size":58},
      {"wl":9585.0,"flux":27.8,"label":"z~5.91","size":56},
      {"wl":9671.8,"flux":24.98,"label":"Si IV","size":58}
    ],
    "note": [
      {"wl":7550,"flux":30,"label":"×10⁻¹⁸"}
    ]
  },
  "resolve": {"axis": {"x": "independent", "y": "independent"}},
  "layer": [
    {
      "data": {"name": "spec"},
      "mark": {"type": "line", "strokeWidth": 2.8, "clip": true},
      "encoding": {
        "x": {"field": "wl", "type": "quantitative",
              "scale": {"domain": [7550, 10248], "nice": false, "zero": false},
              "axis": {"orient": "bottom", "values": [8000, 8500, 9000, 9500, 10000], "format": "d", "ticks": false, "domain": false, "grid": false,
                       "labelFontSize": 45, "labelPadding": 6, "labelFlush": false, "labelOverlap": false,
                       "title": "Observed Wavelength [Å]", "titleFontSize": 42, "titleAnchor": "end", "titleAlign": "right",
                       "titleBaseline": "alphabetic", "titleX": 1648, "titleY": 90}},
        "y": {"field": "flux", "type": "quantitative",
              "scale": {"domain": [-1, 30], "nice": false, "zero": false},
              "axis": {"orient": "left", "values": [0, 5, 10, 15, 20, 25, 30], "ticks": false, "domain": false, "grid": false,
                       "labelFontSize": 45, "labelPadding": 11, "labelFlush": false, "labelOverlap": false,
                       "title": "Flux (fλ) [erg cm⁻² s⁻¹ Å⁻¹]", "titleFontSize": 39, "titleAngle": 270,
                       "titleAlign": "right", "titleBaseline": "alphabetic", "titleX": -104, "titleY": -8}},
        "color": {"datum": "Spectrum", "type": "nominal",
                  "scale": {"domain": ["Spectrum", "Error"], "range": ["#000000", "#0000ff"]},
                  "legend": {"orient": "none", "legendX": 1442, "legendY": 0, "title": null,
                             "fillColor": "#f0f0f0", "strokeColor": "#000000", "padding": 9, "cornerRadius": 0,
                             "symbolType": "M-0.75,0H0.75", "symbolSize": 2304, "symbolStrokeWidth": 2,
                             "labelFontSize": 32, "labelColor": "#000000", "labelFont": "DejaVu Sans Condensed, DejaVu Sans",
                             "labelOffset": 0, "rowPadding": 24,
                             "encode": {"legend": {"update": {"strokeWidth": {"value": 2}}}}}}
      }
    },
    {
      "data": {"name": "err"},
      "mark": {"type": "line", "strokeWidth": 2.4, "clip": true},
      "encoding": {
        "x": {"field": "wl", "type": "quantitative",
              "scale": {"domain": [7550, 10248], "nice": false, "zero": false},
              "axis": {"orient": "bottom", "values": [7600,7700,7800,7900,8000,8100,8200,8300,8400,8500,8600,8700,8800,8900,9000,9100,9200,9300,9400,9500,9600,9700,9800,9900,10000,10100,10200],
                       "labels": false, "domain": false, "grid": false, "ticks": true, "tickSize": -15, "tickWidth": 2, "tickColor": "#000000", "title": null}},
        "y": {"field": "error", "type": "quantitative",
              "scale": {"domain": [-1, 30], "nice": false, "zero": false},
              "axis": {"orient": "left", "values": [0,1,2,3,4,5,6,7,8,9,10,11,12,13,14,15,16,17,18,19,20,21,22,23,24,25,26,27,28,29,30],
                       "labels": false, "domain": false, "grid": false, "ticks": true, "tickSize": -23, "tickWidth": 2, "tickColor": "#000000", "title": null}},
        "color": {"datum": "Error", "type": "nominal"}
      }
    },
    {
      "data": {"name": "lineticks"},
      "mark": {"type": "rule", "color": "#ff0000", "strokeWidth": 2.7},
      "encoding": {
        "x": {"field": "wl", "type": "quantitative",
              "axis": {"orient": "bottom", "values": [8000, 8500, 9000, 9500, 10000],
                       "labels": false, "domain": false, "grid": false, "ticks": true, "tickSize": -31, "tickWidth": 2, "tickColor": "#000000", "title": null}},
        "y": {"field": "lo", "type": "quantitative",
              "axis": {"orient": "left", "values": [0, 5, 10, 15, 20, 25, 30],
                       "labels": false, "domain": false, "grid": false, "ticks": true, "tickSize": -47, "tickWidth": 2, "tickColor": "#000000", "title": null}},
        "y2": {"field": "hi"}
      }
    },
    {
      "data": {"name": "linelabels"},
      "mark": {"type": "text", "color": "#ff0000", "font": "DejaVu Sans", "align": "center", "baseline": "alphabetic"},
      "encoding": {
        "x": {"field": "wl", "type": "quantitative", "axis": null},
        "y": {"field": "flux", "type": "quantitative", "axis": null},
        "text": {"field": "label"},
        "size": {"field": "size", "type": "quantitative", "scale": null, "legend": null}
      }
    },
    {
      "data": {"name": "note"},
      "mark": {"type": "text", "color": "#000000", "fontSize": 44, "font": "DejaVu Sans Condensed, DejaVu Sans", "align": "left", "baseline": "alphabetic", "dx": -2, "dy": -4},
      "encoding": {
        "x": {"field": "wl", "type": "quantitative", "axis": null},
        "y": {"field": "flux", "type": "quantitative", "axis": null},
        "text": {"field": "label"}
      }
    }
  ]
}
